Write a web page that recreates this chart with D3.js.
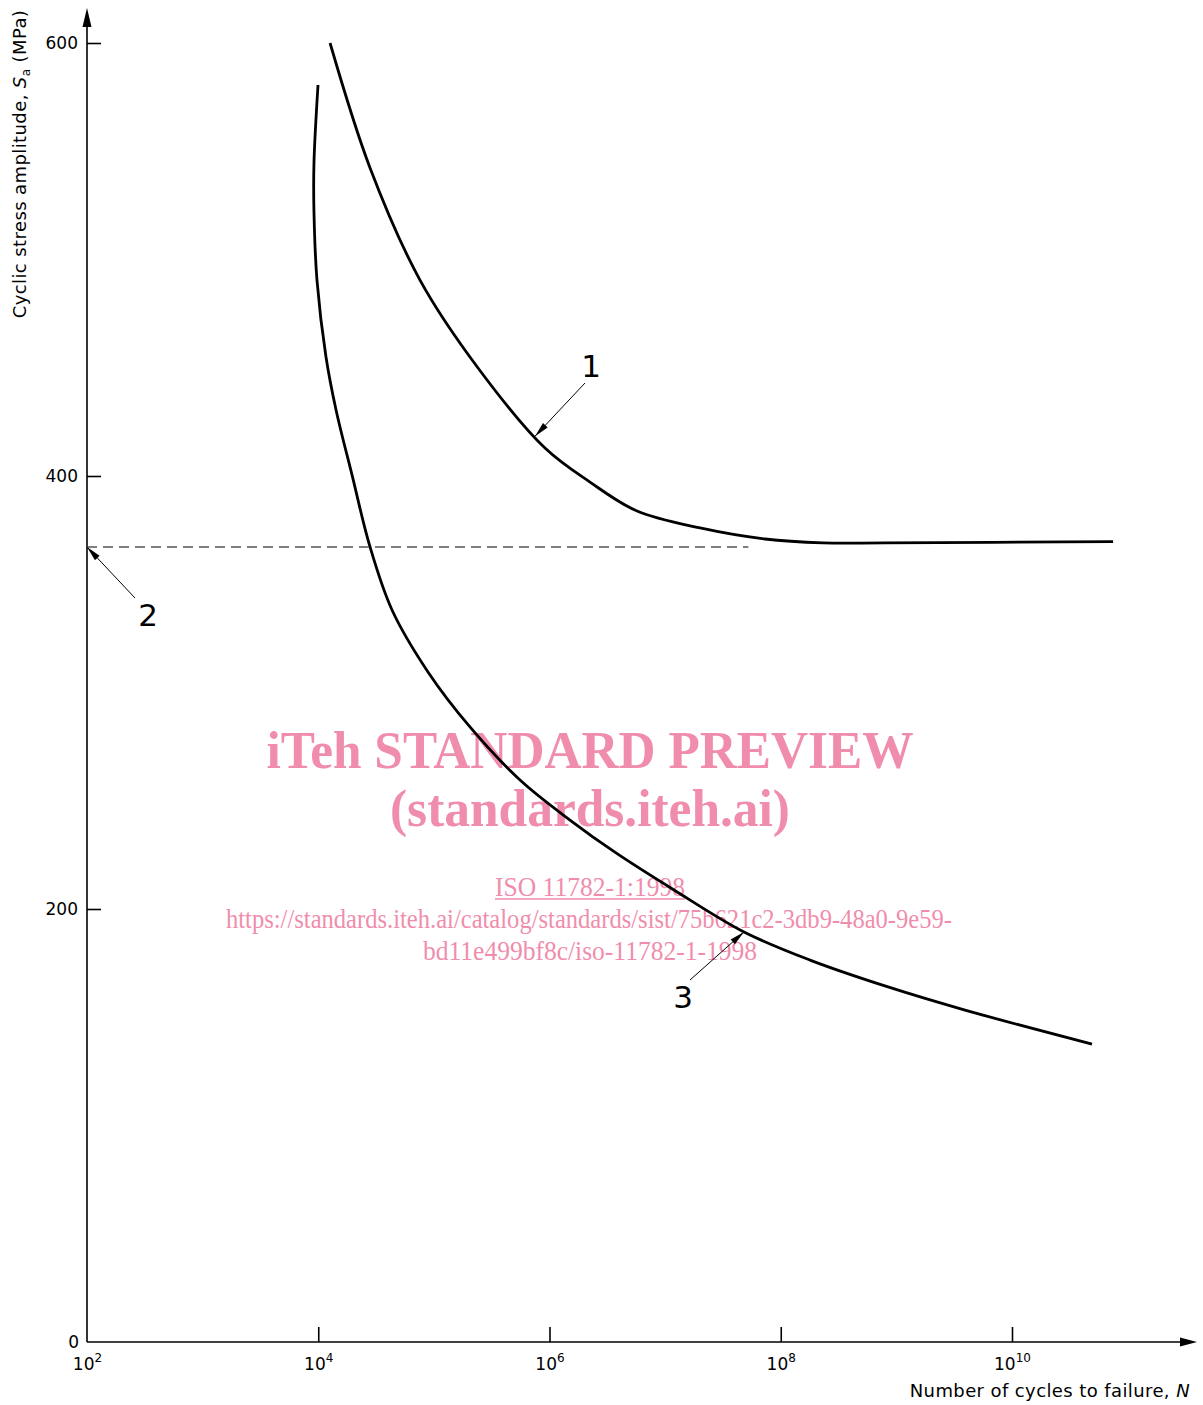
<!DOCTYPE html>
<html><head><meta charset="utf-8">
<script src="https://cdn.jsdelivr.net/npm/d3@7"></script>
<style>body{margin:0;background:#fff}svg{display:block}</style>
</head><body>
<script>
// ---- data (log10 N, stress amplitude MPa) ----
const curve1LogN = [4.102, 4.448, 4.880, 5.382, 5.961, 6.350, 6.757, 7.302, 7.864, 8.365, 8.901, 10.874];
const curve1S    = [600, 542.3, 490.5, 449.9, 412.9, 397.2, 383.8, 376.0, 370.9, 369.1, 369.1, 369.7];
const curve3LogN = [3.998, 3.963, 3.963, 3.989, 4.067, 4.154, 4.292, 4.448, 4.638, 4.949, 5.312, 5.745, 6.177, 6.575, 7.077, 7.682, 8.253, 8.928, 9.594, 10.692];
const curve3S    = [580.6, 544.6, 521.9, 490.5, 455.0, 430.5, 400.5, 367.2, 338.1, 309.5, 284.1, 259.6, 241.1, 225.9, 208.8, 189.4, 176.4, 164.0, 153.3, 137.6];
const enduranceS = 367.2;
const enduranceLogN = [2, 7.72];
const xTickExp = [2, 4, 6, 8, 10];
const yTicks = [0, 200, 400, 600];
const callouts = [
  {label:"1", curve:1, logN:5.875, tx:585, ty:383, lx:591, ly:377},
  {label:"2", curve:0, logN:2.0,   tx:135, ty:598, lx:148, ly:626},
  {label:"3", curve:3, logN:7.682, tx:690, ty:980, lx:683, ly:1008}
];

const W=1203, H=1405;
const svg = d3.select("body").append("svg").attr("width",W).attr("height",H);
const x = d3.scaleLinear().domain([2,10]).range([87,1012]);
const y = d3.scaleLinear().domain([0,600]).range([1342,43]);

// watermark (behind)
const pink="#f08dac";
const wm = svg.append("g").attr("fill",pink).attr("font-family","Liberation Serif, Times New Roman, serif").attr("text-anchor","middle");
wm.append("text").attr("x",590).attr("y",768).attr("font-size",53).attr("font-weight","bold").attr("textLength",647).attr("lengthAdjust","spacingAndGlyphs").text("iTeh STANDARD PREVIEW");
wm.append("text").attr("x",590).attr("y",826).attr("font-size",53).attr("font-weight","bold").attr("textLength",400).attr("lengthAdjust","spacingAndGlyphs").text("(standards.iteh.ai)");
wm.append("text").attr("x",590).attr("y",896).attr("font-size",28).attr("textLength",190).attr("lengthAdjust","spacingAndGlyphs").text("ISO 11782-1:1998");
wm.append("line").attr("x1",495).attr("x2",685).attr("y1",899).attr("y2",899).attr("stroke",pink).attr("stroke-width",1.5);
wm.append("text").attr("x",589).attr("y",928).attr("font-size",27).attr("textLength",726).attr("lengthAdjust","spacingAndGlyphs").text("https://standards.iteh.ai/catalog/standards/sist/75b621c2-3db9-48a0-9e59-");
wm.append("text").attr("x",590).attr("y",960).attr("font-size",27).attr("textLength",334).attr("lengthAdjust","spacingAndGlyphs").text("bd11e499bf8c/iso-11782-1-1998");

// axes
const font = "DejaVu Sans, sans-serif";
const ax = svg.append("g").attr("stroke","#000").attr("stroke-width",1.6);
ax.append("line").attr("x1",87).attr("x2",1180).attr("y1",y(0)).attr("y2",y(0));
ax.append("line").attr("x1",87).attr("x2",87).attr("y1",y(0)).attr("y2",25);
svg.append("path").attr("d","M1180,1337.5 L1197,1342 L1180,1346.5 Z").attr("fill","#000");
svg.append("path").attr("d","M82.5,27 L87,8 L91.5,27 Z").attr("fill","#000");

const xAxis = d3.axisBottom(x).tickValues(xTickExp).tickSize(0).tickFormat(()=>"");
const gx = svg.append("g").attr("transform",`translate(0,${y(0)})`).call(xAxis);
gx.select(".domain").remove();
gx.selectAll(".tick").filter(d=>d>2).append("line").attr("y1",0).attr("y2",-15).attr("stroke","#000").attr("stroke-width",1.6);
gx.selectAll(".tick").each(function(d){
  const t=d3.select(this).append("text").attr("y",28).attr("fill","#000").attr("font-family",font).attr("font-size",17).attr("text-anchor","middle");
  t.append("tspan").text("10");
  t.append("tspan").attr("dy",-8).attr("font-size",12).text(d);
});

const yAxis = d3.axisLeft(y).tickValues(yTicks).tickSize(0).tickFormat(d=>d);
const gy = svg.append("g").attr("transform","translate(87,0)").call(yAxis);
gy.select(".domain").remove();
gy.selectAll(".tick text").attr("x",d=>d===0?-8:-9).attr("font-family",font).attr("font-size",17).attr("fill","#000");
gy.selectAll(".tick").filter(d=>d>0).append("line").attr("x1",0).attr("x2",14).attr("stroke","#000").attr("stroke-width",1.6);

// axis titles
const yl = svg.append("text").attr("transform","translate(26,164) rotate(-90)").attr("text-anchor","middle").attr("font-family",font).attr("font-size",18).attr("letter-spacing",0.4).attr("fill","#000");
yl.append("tspan").text("Cyclic stress amplitude, ");
yl.append("tspan").attr("font-style","italic").text("S");
yl.append("tspan").attr("dy",4).attr("font-size",12).text("a");
yl.append("tspan").attr("dy",-4).text(" (MPa)");
const xl = svg.append("text").attr("x",1190).attr("y",1397).attr("text-anchor","end").attr("font-family",font).attr("font-size",18).attr("letter-spacing",0.4).attr("fill","#000");
xl.append("tspan").text("Number of cycles to failure, ");
xl.append("tspan").attr("font-style","italic").text("N");

// curves
const line = d3.line().x(d=>x(d[0])).y(d=>y(d[1])).curve(d3.curveCatmullRom.alpha(0.5));
const c1 = curve1LogN.map((v,i)=>[v,curve1S[i]]);
const c3 = curve3LogN.map((v,i)=>[v,curve3S[i]]);
svg.append("path").attr("d",line(c1)).attr("fill","none").attr("stroke","#000").attr("stroke-width",2.8);
svg.append("path").attr("d",line(c3)).attr("fill","none").attr("stroke","#000").attr("stroke-width",2.8);
svg.append("line").attr("x1",x(enduranceLogN[0])).attr("x2",x(enduranceLogN[1])).attr("y1",y(enduranceS)).attr("y2",y(enduranceS))
  .attr("stroke","#555").attr("stroke-width",1.3).attr("stroke-dasharray","10,6");

// callouts
function curveYAt(data, lx){
  for(let i=0;i<data.length-1;i++){
    const a=data[i], b=data[i+1];
    if(lx>=a[0]&&lx<=b[0]){const t=(lx-a[0])/(b[0]-a[0]);return a[1]+t*(b[1]-a[1]);}
  }
  return data[data.length-1][1];
}
callouts.forEach(c=>{
  let px=x(c.logN), py;
  if(c.curve===1) py=y(curveYAt(c1,c.logN));
  else if(c.curve===3) py=y(curveYAt(c3,c.logN));
  else py=y(enduranceS);
  const ang=Math.atan2(py-c.ty, px-c.tx);
  svg.append("line").attr("x1",c.tx).attr("y1",c.ty).attr("x2",px).attr("y2",py).attr("stroke","#000").attr("stroke-width",1);
  const L=15, Wd=3.2;
  const bx=px-L*Math.cos(ang), by=py-L*Math.sin(ang);
  const nx=-Math.sin(ang)*Wd, ny=Math.cos(ang)*Wd;
  svg.append("path").attr("d",`M${px},${py} L${bx+nx},${by+ny} L${bx-nx},${by-ny} Z`).attr("fill","#000");
  svg.append("text").attr("x",c.lx).attr("y",c.ly).attr("text-anchor","middle").attr("font-family",font).attr("font-size",31).attr("fill","#000").text(c.label);
});
</script>
</body></html>
